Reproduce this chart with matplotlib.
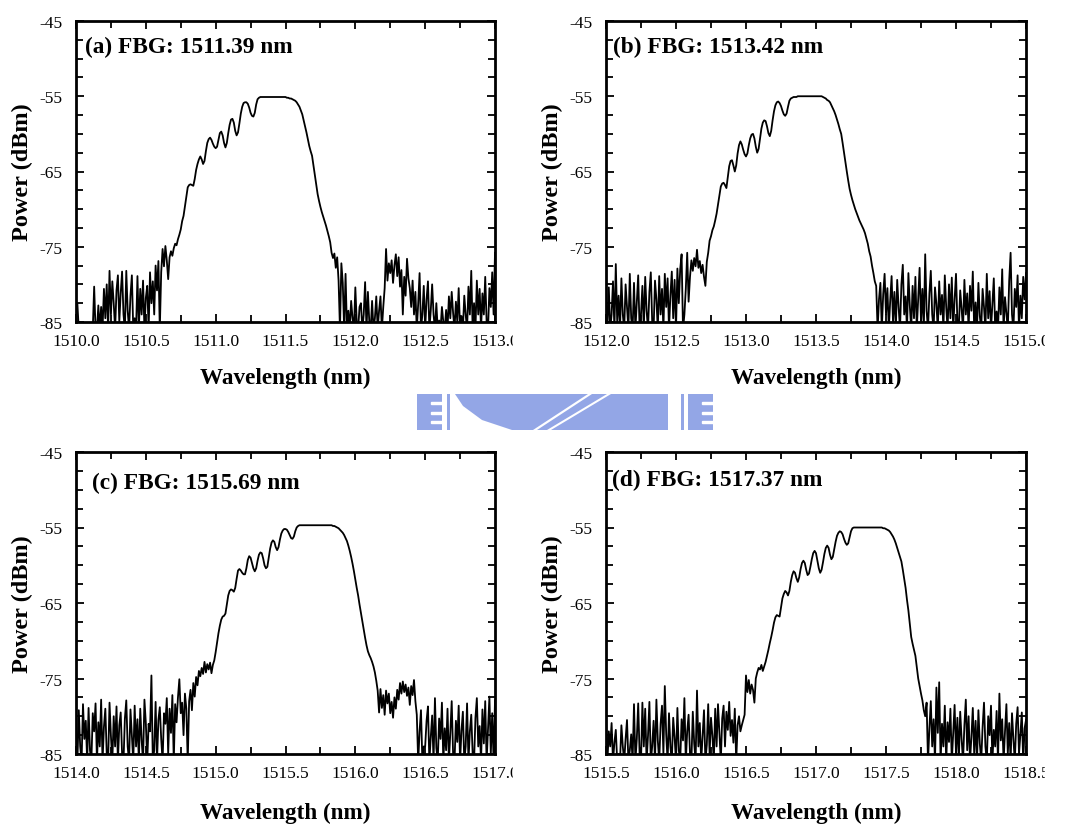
import numpy as np
import matplotlib
matplotlib.use("Agg")
import matplotlib.pyplot as plt
from matplotlib.ticker import MultipleLocator, FormatStrFormatter
from matplotlib.patches import Polygon, Rectangle

plt.rcParams['font.family'] = ['Liberation Serif', 'DejaVu Serif']
plt.rcParams['axes.unicode_minus'] = False

# start wavelength of each trace (nm), sampled every 0.01 nm over 3 nm
starts = [1510.0, 1512.0, 1514.0, 1515.5]
titles = ['(a) FBG: 1511.39 nm', '(b) FBG: 1513.42 nm',
          '(c) FBG: 1515.69 nm', '(d) FBG: 1517.37 nm']

# power (dBm); -86 means below the -85 floor
power_a = [
    -82.8, -82.6, -86, -86, -86, -86, -86, -86, -86, -86,
    -86, -86, -86, -80.3, -86, -86, -82.8, -86, -83.0, -86,
    -80.6, -84.5, -80.0, -86, -78.2, -84, -79.6, -82.5, -86, -80.8,
    -78.8, -85, -81.2, -78.3, -84, -86, -78.2, -83.5, -86, -81.5,
    -78.8, -86, -84.5, -86, -78.9, -86, -80.6, -84, -79.5, -86,
    -81.8, -80.2, -86, -78.4, -82.5, -79.6, -84, -77.5, -80.8, -76.9,
    -86, -78.4, -75.3, -77.6, -74.9, -76.8, -79.3, -76.4, -75.6, -76.2,
    -75.2, -74.6, -74.8, -74.0, -73.4, -72.7, -71.6, -70.9, -69.6, -68.3,
    -67.1, -66.8, -66.7, -66.8, -66.9, -66.0, -64.8, -64.0, -63.4, -63.0,
    -63.4, -64.0, -63.6, -62.3, -61.2, -60.7, -60.5, -60.8, -61.3, -61.7,
    -61.9, -61.7, -60.8, -59.9, -59.7, -60.2, -61.2, -61.8, -61.2, -59.9,
    -58.8, -58.1, -58.0, -58.5, -59.6, -60.2, -59.8, -58.6, -57.3, -56.4,
    -55.9, -55.8, -55.8, -56.0, -56.5, -57.2, -57.6, -57.7, -57.2, -56.1,
    -55.4, -55.2, -55.1, -55.1, -55.1, -55.1, -55.1, -55.1, -55.1, -55.1,
    -55.1, -55.1, -55.1, -55.1, -55.1, -55.1, -55.1, -55.1, -55.1, -55.1,
    -55.1, -55.2, -55.2, -55.3, -55.3, -55.4, -55.5, -55.6, -55.8, -56.1,
    -56.4, -56.9, -57.4, -58.2, -59.0, -59.8, -60.7, -61.6, -62.3, -62.9,
    -64.2, -65.6, -66.9, -68.0, -68.9, -69.7, -70.4, -71.0, -71.6, -72.2,
    -72.9, -73.6, -74.4, -75.8, -76.5, -75.9, -77.8, -76.4, -79.5, -86,
    -77.2, -79.8, -86, -78.6, -86, -83.5, -86, -82.2, -84.5, -86,
    -80.4, -85, -86, -83, -82.5, -86, -84, -79.7, -86, -81.0,
    -85, -86, -82.2, -86, -84.5, -81.6, -86, -83.5, -81.6, -86,
    -83, -80.5, -75.3, -79.5, -77.2, -78.5, -76.8, -79.8, -77.5, -76.0,
    -78.9, -76.4, -80.3, -78.1, -84, -79.0, -81.5, -76.6, -79.2, -80.5,
    -83, -79.5, -84, -81.0, -86, -82.6, -78.5, -86, -84, -80.2,
    -86, -82.0, -79.6, -86, -83.5, -80.0, -84, -86, -82.5, -86,
    -84.8, -86, -83.0, -85, -86, -83.4, -86, -81.6, -84.5, -81.0,
    -83.8, -86, -82.3, -85, -80.5, -86, -84.2, -86, -81.5, -84,
    -86, -80.3, -84, -78.2, -86, -82.5, -86, -79.5, -84, -80.6,
    -86, -81.2, -84, -79.0, -85, -86, -80.5, -83, -78.4, -84,
    -75.8,
]

power_b = [
    -82.0, -86, -80.4, -86, -84, -79.6, -86, -77.3, -85, -81.5,
    -86, -79.2, -84, -86, -80.0, -83, -86, -78.6, -84.5, -86,
    -79.8, -86, -82.5, -78.8, -86, -84, -80.2, -86, -79.0, -83.5,
    -86, -81.0, -78.4, -85, -86, -79.5, -82.0, -86, -78.9, -84,
    -80.6, -86, -78.6, -83, -79.2, -86, -81.5, -78.3, -84.5, -79.4,
    -86, -77.9, -82.5, -78.0, -76.0, -86, -84.0, -80.6, -75.8, -82.3,
    -79.0, -76.8, -78.2, -76.5, -77.6, -75.4, -77.8, -76.9, -78.5, -77.4,
    -79.0, -80.2, -77.0, -75.8, -74.2, -73.6, -72.8, -72.3, -71.5, -70.6,
    -69.4, -68.2, -67.0, -66.6, -66.5, -66.8, -67.2, -65.8, -64.3, -63.6,
    -63.5, -64.2, -65.0, -64.2, -62.6, -61.5, -61.0, -61.4, -62.1, -62.7,
    -63.0, -62.6, -61.5, -60.6, -60.1, -60.0, -60.6, -61.7, -62.5, -62.0,
    -60.6, -59.3, -58.5, -58.2, -58.3, -59.0, -59.9, -60.3, -59.6, -58.2,
    -57.0, -56.2, -55.8, -55.7, -55.9, -56.3, -56.9, -57.4, -57.6, -57.3,
    -56.4, -55.6, -55.3, -55.2, -55.1, -55.1, -55.1, -55.0, -55.0, -55.0,
    -55.0, -55.0, -55.0, -55.0, -55.0, -55.0, -55.0, -55.0, -55.0, -55.0,
    -55.0, -55.0, -55.0, -55.0, -55.0, -55.1, -55.2, -55.3, -55.5, -55.6,
    -55.8, -56.2, -56.6, -57.0, -57.5, -58.1, -58.7, -59.4, -60.0, -61.2,
    -62.5, -63.8, -65.0, -66.2, -67.3, -68.1, -68.8, -69.4, -70.0, -70.5,
    -71.0, -71.5, -71.9, -72.3, -72.7, -73.2, -73.9, -74.6, -75.6, -76.3,
    -77.5, -78.5, -79.6, -80.2, -86, -82.0, -79.8, -86, -81.3, -78.6,
    -84, -80.5, -86, -82.2, -78.9, -85, -81.0, -86, -79.4, -83,
    -86, -80.0, -77.4, -84, -81.6, -86, -78.5, -82.8, -86, -80.2,
    -84.5, -79.0, -86, -81.8, -77.8, -85, -80.6, -86, -76.0, -83.5,
    -86, -81.2, -78.2, -84, -86, -80.4, -82.6, -86, -79.6, -84,
    -81.4, -86, -78.8, -83, -86, -80.0, -84.5, -79.1, -86, -82.0,
    -78.6, -85, -86, -80.8, -83.2, -86, -79.4, -84, -81.2, -86,
    -80.2, -83.5, -78.3, -86, -82.4, -86, -79.8, -84.2, -86, -80.6,
    -83, -86, -78.6, -84.5, -80.9, -86, -82.5, -79.2, -86, -83.6,
    -86, -80.4, -84, -78.0, -86, -81.7, -83.8, -86, -79.5, -75.8,
    -84, -86, -80.6, -83, -78.8, -86, -81.5, -84.5, -79.0, -82,
    -78.5,
]

power_c = [
    -81.5, -86, -79.2, -84, -86, -78.4, -83, -80.6, -86, -78.9,
    -84.5, -86, -79.6, -82.0, -78.3, -86, -80.8, -84, -77.8, -86,
    -81.4, -79.0, -85, -86, -78.2, -82.6, -86, -80.0, -84, -78.7,
    -86, -81.2, -79.5, -85, -86, -80.3, -77.9, -84, -86, -79.1,
    -82.5, -86, -78.6, -84, -80.4, -86, -79.0, -83.2, -86, -77.8,
    -80.9, -86, -81.0, -82.0, -74.6, -86, -84.5, -78.1, -86, -80.5,
    -78.8, -83, -86, -79.6, -81.0, -77.6, -85, -79.0, -82.2, -77.2,
    -86, -78.4, -80.8, -77.5, -75.1, -79.6, -78.2, -82.5, -77.0, -79.0,
    -86, -78.0, -76.5, -79.2, -75.6, -77.4, -74.8, -75.9, -74.0, -74.7,
    -73.6, -74.4, -72.8, -74.2, -73.1, -73.8, -72.9, -74.3, -73.2, -72.6,
    -71.5, -70.2, -69.0, -68.0, -67.2, -66.8, -66.7, -66.4, -65.2, -64.0,
    -63.4, -63.2, -63.3, -63.5, -63.0, -61.8, -60.7, -60.5, -60.7, -61.0,
    -61.2, -61.2, -60.4, -59.3, -58.8, -59.0, -59.7, -60.4, -60.8, -60.4,
    -59.4, -58.6, -58.3, -58.4, -59.1, -60.0, -60.4, -60.2, -59.0, -57.8,
    -57.0, -56.7, -56.9, -57.6, -58.0, -57.6, -56.6, -55.8, -55.4, -55.2,
    -55.2, -55.3, -55.6, -56.0, -56.4, -56.5, -56.2, -55.5, -55.0, -54.8,
    -54.7, -54.7, -54.7, -54.7, -54.7, -54.7, -54.7, -54.7, -54.7, -54.7,
    -54.7, -54.7, -54.7, -54.7, -54.7, -54.7, -54.7, -54.7, -54.7, -54.7,
    -54.7, -54.7, -54.7, -54.7, -54.8, -54.8, -54.9, -55.0, -55.1, -55.3,
    -55.5, -55.7, -56.0, -56.4, -56.8, -57.4, -58.1, -58.9, -59.8, -60.8,
    -61.9, -63.0, -64.0, -65.2, -66.3, -67.4, -68.5, -69.6, -70.6, -71.4,
    -71.9, -72.3, -72.8, -73.4, -74.2, -75.3, -76.6, -79.5, -76.4, -78.9,
    -77.2, -79.8, -76.6, -78.3, -77.0, -79.6, -78.1, -80.2, -77.5, -79.0,
    -76.5, -77.8, -75.6, -77.0, -75.4, -76.8, -75.8, -77.3, -76.2, -78.5,
    -76.0, -77.2, -75.2, -78.0, -79.8, -86, -82.0, -79.2, -86, -84,
    -84, -80.6, -78.7, -86, -82.8, -79.9, -86, -77.6, -84.2, -86,
    -80.3, -83, -78.2, -86, -81.6, -84.5, -79.0, -86, -82.2, -78.0,
    -85, -86, -80.6, -83.4, -78.6, -86, -81.9, -79.4, -86, -84,
    -78.3, -86, -82.0, -79.8, -85, -86, -80.2, -77.6, -84, -81.3,
    -86, -79.1, -83.6, -78.0, -86, -81.8, -77.4, -85, -79.6, -86,
    -77.9,
]

power_d = [
    -80.6, -86, -82.0, -84, -80.9, -86, -83.5, -81.8, -86, -85,
    -86, -81.2, -84, -86, -83.0, -80.5, -86, -84.5, -82.4, -86,
    -78.4, -86, -83, -78.3, -85, -86, -78.2, -84, -79.0, -86,
    -82.6, -78.1, -86, -84, -80.6, -86, -77.8, -83.2, -86, -81.0,
    -78.6, -85, -76.0, -82.4, -86, -79.6, -84, -86, -80.2, -82.8,
    -86, -78.9, -84.5, -86, -80.4, -83.2, -77.6, -86, -82.0, -79.8,
    -85, -86, -79.4, -83.6, -86, -76.6, -84, -80.9, -86, -82.5,
    -79.2, -86, -83.8, -78.4, -85, -80.2, -82.6, -86, -79.0, -84,
    -78.4, -82.1, -86, -80.3, -78.6, -84, -79.4, -81.8, -78.1, -82.6,
    -80.5, -83.5, -79.0, -86, -81.2, -80.0, -82.0, -81.2, -80.5, -79.8,
    -74.6, -76.8, -75.2, -77.0, -75.8, -76.5, -78.2, -75.0, -74.2, -73.6,
    -73.8, -73.2, -74.0, -73.4, -72.8, -72.0, -71.2, -70.3, -69.5, -68.6,
    -67.6, -66.9, -66.6, -66.7, -66.8, -65.6, -64.4, -63.8, -63.4, -63.6,
    -64.0, -63.4, -62.2, -61.3, -60.8, -61.0, -61.7, -62.2, -61.6, -60.5,
    -59.7, -59.4, -59.7, -60.6, -61.3, -61.1, -60.2, -59.2, -58.4, -58.1,
    -58.4, -59.4, -60.4, -61.0, -60.6, -59.6, -58.5, -57.7, -57.4, -57.7,
    -58.6, -59.2, -58.9, -57.9, -56.9, -56.1, -55.7, -55.5, -55.6, -55.9,
    -56.5, -57.0, -57.3, -57.1, -56.3, -55.5, -55.1, -55.0, -55.0, -55.0,
    -55.0, -55.0, -55.0, -55.0, -55.0, -55.0, -55.0, -55.0, -55.0, -55.0,
    -55.0, -55.0, -55.0, -55.0, -55.0, -55.0, -55.0, -55.0, -55.1, -55.1,
    -55.2, -55.3, -55.4, -55.6, -55.9, -56.2, -56.6, -57.1, -57.7, -58.3,
    -58.9, -59.5, -60.6, -61.8, -63.0, -64.6, -66.0, -67.8, -69.5, -70.4,
    -71.2, -72.0, -73.5, -75.0, -76.0, -77.0, -77.9, -79.2, -80.0, -78.2,
    -86, -81.6, -78.0, -84, -80.4, -86, -76.2, -82.2, -75.5, -86,
    -81.0, -84, -78.6, -86, -80.8, -83.4, -79.0, -86, -82.2, -78.5,
    -85, -80.2, -86, -79.4, -83, -86, -81.2, -77.8, -84.5, -80.0,
    -86, -82.8, -78.9, -85, -80.6, -86, -79.2, -83.6, -86, -81.4,
    -78.2, -84, -86, -80.0, -82.5, -78.6, -86, -81.8, -84, -79.3,
    -86, -77.0, -83.2, -80.4, -86, -82.0, -78.4, -85, -80.9, -86,
    -79.6, -83, -86, -81.0, -78.8, -85, -82.4, -79.5, -86, -81.6,
    -80.5,
]

powers = [power_a, power_b, power_c, power_d]

W, H = 1069, 828
fig = plt.figure(figsize=(W / 100, H / 100), dpi=100)
fig.patch.set_facecolor('white')

# axes boxes in pixels: left, top, right, bottom
boxes = [(76, 22, 495, 323), (606, 22, 1026, 323),
         (76, 453, 495, 755), (606, 453, 1026, 755)]
title_pos = [(0.021, 0.914), (0.017, 0.914), (0.038, 0.90), (0.015, 0.91)]

for k in range(4):
    l, t, r, b = boxes[k]
    ax = fig.add_axes([l / W, 1 - b / H, (r - l) / W, (b - t) / H])
    wl = starts[k] + 0.01 * np.arange(len(powers[k]))
    ax.plot(wl, powers[k], color='black', lw=1.3)
    ax.set_xlim(starts[k], starts[k] + 3.0)
    ax.set_ylim(-85, -45)
    ax.xaxis.set_major_locator(MultipleLocator(0.5))
    ax.xaxis.set_minor_locator(MultipleLocator(0.25))
    ax.xaxis.set_major_formatter(FormatStrFormatter('%.1f'))
    ax.set_yticks([-85, -75, -65, -55, -45])
    ax.yaxis.set_minor_locator(MultipleLocator(2.5))
    ax.tick_params(which='both', direction='in', top=True, right=True,
                   width=1.3, labelsize=12.5, colors='black')
    ax.tick_params(which='major', length=6)
    ax.tick_params(axis='x', which='major', pad=8)
    ax.tick_params(axis='y', which='major', pad=10)
    ax.tick_params(which='minor', length=5)
    for sp in ax.spines.values():
        sp.set_linewidth(2)
    ax.set_xlabel('Wavelength (nm)', fontsize=16.7, fontweight='bold')
    ax.set_ylabel('Power (dBm)', fontsize=17.5, fontweight='bold')
    ax.xaxis.set_label_coords(0.5, -0.15 if k < 2 else -0.158)
    ax.yaxis.set_label_coords(-0.102, 0.5)
    ax.text(title_pos[k][0], title_pos[k][1], titles[k], transform=ax.transAxes,
            fontsize=16.8, fontweight='bold', va='center', ha='left')


def px(x, y):
    return (x / W, 1 - y / H)


# the last x tick label of each panel is cropped in the source image
for x0, x1, y0, y1 in [(513, 560, 328, 354), (1045, 1069, 328, 354),
                       (513, 560, 758, 784), (1045, 1069, 758, 784)]:
    fig.add_artist(Rectangle(px(x0, y1), (x1 - x0) / W, (y1 - y0) / H,
                             transform=fig.transFigure, color='white', zorder=20))

# faded logo watermark between the rows
blue = '#93a6e6'
wm = []
for x0 in (417, 688):
    wm.append([(x0, 395), (x0 + 25, 395), (x0 + 25, 431), (x0, 431)])
for x0 in (447, 681):
    wm.append([(x0, 395), (x0 + 3, 395), (x0 + 3, 431), (x0, 431)])
wm.append([(455, 395), (668, 395), (668, 431), (512, 431), (482, 421), (463, 407)])
for poly in wm:
    fig.add_artist(Polygon([px(x, y) for x, y in poly], closed=True,
                           transform=fig.transFigure, facecolor=blue,
                           edgecolor='none', zorder=0))
for xb, xt in [(533, 588), (547, 607)]:
    fig.add_artist(Polygon([px(xb, 431), px(xb + 4, 431), px(xt + 4, 395), px(xt, 395)],
                           closed=True, transform=fig.transFigure,
                           facecolor='white', edgecolor='none', zorder=1))
for x0 in (417, 688):
    for yy in (403, 413, 422):
        fig.add_artist(Rectangle(px(x0 + 14, yy + 2), 11 / W, 2 / H,
                                 transform=fig.transFigure, color='white', zorder=1))

fig.savefig('out.png', dpi=100, facecolor='white')
